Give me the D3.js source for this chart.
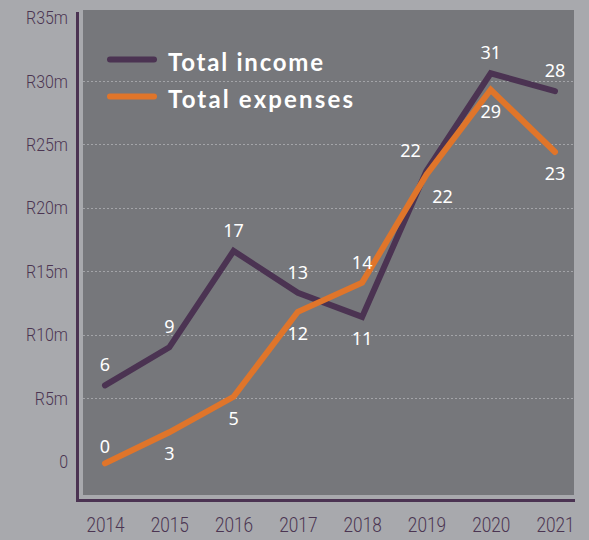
<!DOCTYPE html>
<html>
<head>
<meta charset="utf-8">
<script src="https://cdn.jsdelivr.net/npm/d3@7"></script>
<style>
  body { margin: 0; background: #a8a9ad; }
  svg { display: block; }
  .tick text { fill: #4b3552; font-family: Roboto, "Noto Sans", sans-serif; font-weight: 300; }
  .lbl { fill: #fff; font-family: "Noto Sans", Lato, sans-serif; font-size: 18px; }
  .legend text { fill: #fff; font-family: Lato, "Noto Sans", sans-serif; font-weight: 700; font-size: 24px; }
</style>
</head>
<body>
<svg width="589" height="540"></svg>
<script>
var years = ["2014", "2015", "2016", "2017", "2018", "2019", "2020", "2021"];
var income = [6.0, 9.0, 16.6, 13.3, 11.4, 22.9, 30.6, 29.2];
var expenses = [-0.15, 2.3, 5.1, 11.8, 14.1, 22.6, 29.3, 24.4];
var incomeLabels = ["6", "9", "17", "13", "11", "22", "31", "28"];
var expenseLabels = ["0", "3", "5", "12", "14", "22", "29", "23"];
var yTicks = [0, 5, 10, 15, 20, 25, 30, 35];
var seriesNames = ["Total income", "Total expenses"];

var purple = "#4b3352", orange = "#e0752a";

var svg = d3.select("svg"),
    panel = {left: 83, right: 574, top: 10, bottom: 495};

var x = d3.scalePoint().domain(years).range([105, 555]),
    y = d3.scaleLinear().domain([0, 35]).range([461.5, 17.5]);

// plot background
svg.append("rect")
    .attr("x", panel.left)
    .attr("y", panel.top)
    .attr("width", panel.right - panel.left)
    .attr("height", panel.bottom - panel.top)
    .attr("fill", "#76777b");

// dotted grid
svg.append("g").selectAll("line")
    .data(yTicks.filter(d => d > 0 && d < 35))
  .enter().append("line")
    .attr("x1", panel.left)
    .attr("x2", panel.right)
    .attr("y1", d => Math.round(y(d)) + 0.5)
    .attr("y2", d => Math.round(y(d)) + 0.5)
    .attr("stroke", "#a3a4a8")
    .attr("stroke-width", 1)
    .attr("stroke-dasharray", "2,2");

// axis frame lines (offset from the panel)
svg.append("path")
    .attr("d", "M77.5,12V500.5H575")
    .attr("fill", "none")
    .attr("stroke", purple)
    .attr("stroke-width", 3);

var yAxisG = svg.append("g")
    .attr("transform", "translate(68,0)")
    .call(d3.axisLeft(y).tickValues(yTicks).tickSize(0).tickPadding(0)
      .tickFormat(d => d === 0 ? "0" : "R" + d + "m"));
yAxisG.select(".domain").remove();
yAxisG.selectAll("text")
    .attr("font-size", 19)
    .attr("transform", "scale(0.84,1)");

var xAxisG = svg.append("g")
    .attr("transform", "translate(0,532)")
    .call(d3.axisBottom(x).tickSize(0).tickPadding(0));
xAxisG.select(".domain").remove();
xAxisG.selectAll("text")
    .attr("y", 0)
    .attr("dy", null)
    .attr("font-size", 21)
    .attr("transform", "scale(0.82,1)");

var line = d3.line()
    .x((d, i) => x(years[i]))
    .y(d => y(d));

svg.append("path")
    .datum(income)
    .attr("d", line)
    .attr("fill", "none")
    .attr("stroke", purple)
    .attr("stroke-width", 6)
    .attr("stroke-linecap", "round");

svg.append("path")
    .datum(expenses)
    .attr("d", line)
    .attr("fill", "none")
    .attr("stroke", orange)
    .attr("stroke-width", 6)
    .attr("stroke-linecap", "round");

// value labels: above or below the point depending on the other series
function labelOffset(own, other, i, isIncome) {
  if (i === 0 && !isIncome) return [0, -17];
  if (own[i] >= other[i]) return [isIncome && i === 5 ? -16 : 0, -21];
  return [!isIncome && i === 5 ? 16 : 0, 21];
}

svg.append("g").selectAll("text")
    .data(incomeLabels)
  .enter().append("text")
    .attr("class", "lbl")
    .attr("x", (d, i) => x(years[i]) + labelOffset(income, expenses, i, true)[0])
    .attr("y", (d, i) => y(income[i]) + labelOffset(income, expenses, i, true)[1])
    .attr("text-anchor", "middle")
    .attr("dominant-baseline", "central")
    .text(d => d);

svg.append("g").selectAll("text")
    .data(expenseLabels)
  .enter().append("text")
    .attr("class", "lbl")
    .attr("x", (d, i) => x(years[i]) + labelOffset(expenses, income, i, false)[0])
    .attr("y", (d, i) => y(expenses[i]) + labelOffset(expenses, income, i, false)[1])
    .attr("text-anchor", "middle")
    .attr("dominant-baseline", "central")
    .text(d => d);

// legend
var legend = svg.append("g").attr("class", "legend");
var legendItems = legend.selectAll("g")
    .data(seriesNames)
  .enter().append("g")
    .attr("transform", (d, i) => "translate(0," + (59.5 + i * 37) + ")");
legendItems.append("line")
    .attr("x1", 110).attr("x2", 154)
    .attr("stroke", (d, i) => i === 0 ? purple : orange)
    .attr("stroke-width", 6)
    .attr("stroke-linecap", "round");
legendItems.append("text")
    .attr("x", 168)
    .attr("y", 11)
    .attr("textLength", (d, i) => i === 0 ? 155 : 185)
    .attr("lengthAdjust", "spacing")
    .text(d => d);
</script>
</body>
</html>
